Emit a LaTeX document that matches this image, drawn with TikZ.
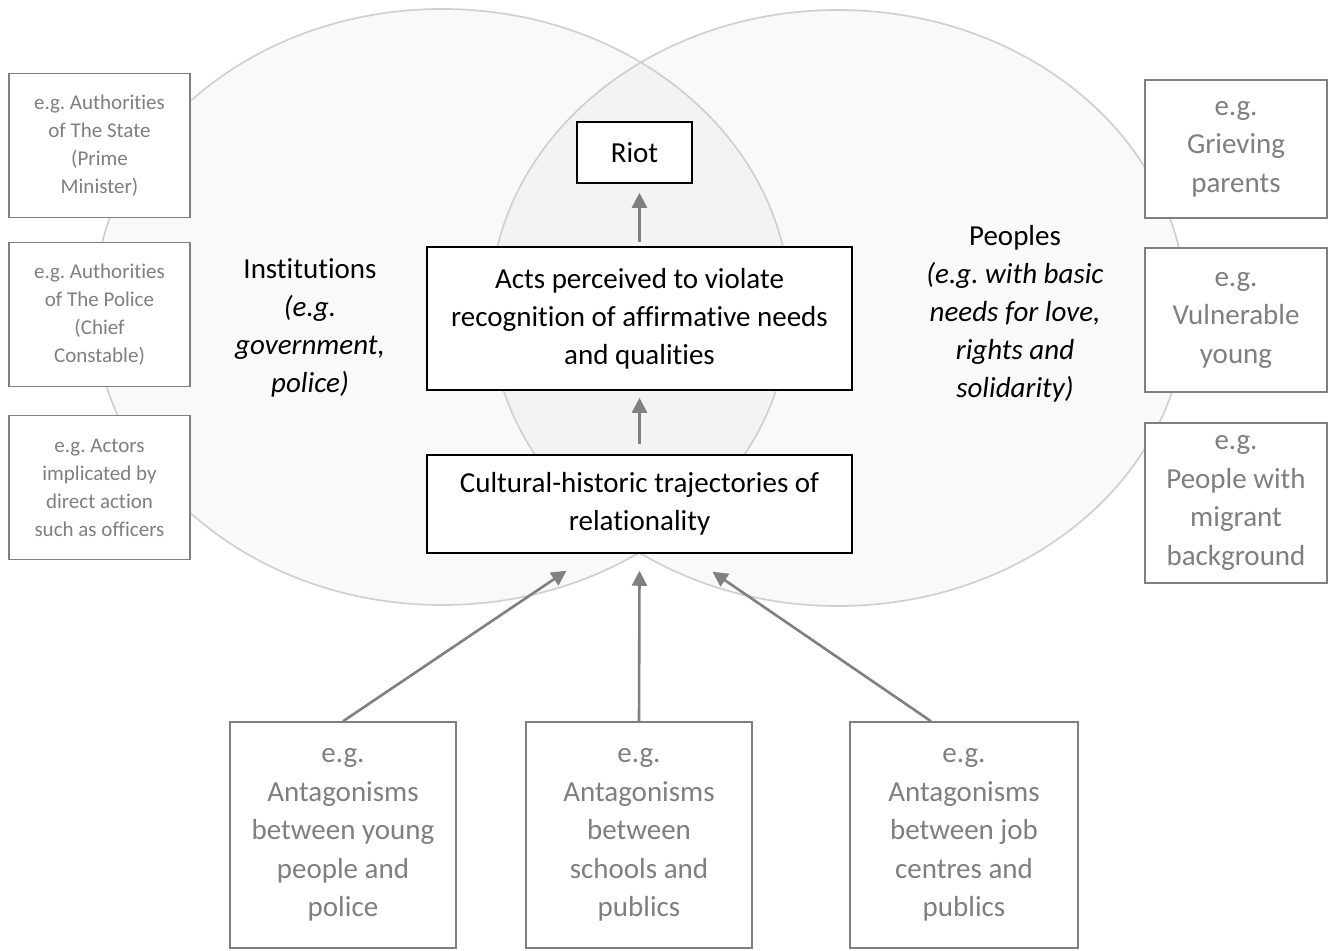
\documentclass[tikz,border=0pt]{standalone}
\usepackage{fontspec}
\setmainfont{Carlito}[Ligatures=NoCommon]
\usetikzlibrary{arrows.meta,positioning,calc}
\definecolor{VennLine}{HTML}{D0D0D0}
\definecolor{EgGrey}{HTML}{7F7F7F}
\definecolor{ArrowGrey}{HTML}{808080}
\frenchspacing

\begin{document}
\begin{tikzpicture}[x=1pt,y=-1pt,
  every node/.style={align=center,inner sep=0pt},
  egsmall/.style={draw=EgGrey,line width=1.5pt,fill=white,text=EgGrey,minimum width=181pt,minimum height=144pt,font=\fontsize{21}{28}\selectfont},
  eglarge/.style={draw=EgGrey,line width=1.5pt,fill=white,text=EgGrey,font=\fontsize{29}{38.5}\selectfont},
  mainbox/.style={draw=black,line width=1.5pt,fill=white,font=\fontsize{29}{38}\selectfont},
  flow/.style={-{Triangle[length=15pt,width=15pt]},line width=2.6pt,ArrowGrey}]
  \useasboundingbox (0,0) rectangle (1332,950);
  % the two overlapping circles
  \fill[black,fill opacity=0.022] (442,307) ellipse [x radius=348pt,y radius=298pt];
  \fill[black,fill opacity=0.022] (838,308) ellipse [x radius=348pt,y radius=298pt];
  \draw[VennLine,line width=1.7pt] (442,307) ellipse [x radius=348pt,y radius=298pt];
  \draw[VennLine,line width=1.7pt] (838,308) ellipse [x radius=348pt,y radius=298pt];
  \node[font=\fontsize{29}{38}\selectfont] (inst) at (310,328) {Institutions\\\textit{(e.g.}\\\textit{government,}\\\textit{police)}};
  \node[font=\fontsize{29}{38}\selectfont] (peoples) at (1015,314) {Peoples\\\textit{(e.g. with basic}\\\textit{needs for love,}\\\textit{rights and}\\\textit{solidarity)}};
  % left examples
  \node[egsmall] (state) at (99.5,145.5) {e.g. Authorities\\of The State\\(Prime\\Minister)};
  \node[egsmall,below=23.5pt of state] (police) {e.g. Authorities\\of The Police\\(Chief\\Constable)};
  \node[egsmall,below=27.5pt of police] (actors) {e.g. Actors\\implicated by\\direct action\\such as officers};
  % right examples
  \node[eglarge,minimum width=182pt,minimum height=138pt] (parents) at (1236,149) {e.g.\\Grieving\\parents};
  \node[eglarge,minimum width=182pt,minimum height=144pt,below=28.5pt of parents] (young) {e.g.\\Vulnerable\\young};
  \node[eglarge,minimum width=182pt,minimum height=160pt,below=29.5pt of young] (migrant) {e.g.\\People with\\migrant\\background};
  % bottom examples
  \node[eglarge,minimum width=226pt,minimum height=226pt] (youth) at (343,835) {e.g.\\Antagonisms\\between young\\people and\\police};
  \node[eglarge,minimum width=226pt,minimum height=226pt,right=68.5pt of youth] (schools) {e.g.\\Antagonisms\\between\\schools and\\publics};
  \node[eglarge,minimum width=228pt,minimum height=226pt,right=96.5pt of schools] (jobs) {e.g.\\Antagonisms\\between job\\centres and\\publics};
  % centre chain
  \node[mainbox,minimum width=115pt,minimum height=61pt] (riot) at (634.5,152.5) {Riot};
  \node[mainbox,minimum width=425pt,minimum height=143pt] (acts) at (639.5,318.5) {Acts perceived to violate\\recognition of affirmative needs\\and qualities};
  \node[mainbox,minimum width=425pt,minimum height=98pt] (cult) at (639.5,504) {Cultural-historic trajectories of\\relationality};
  \draw[flow,shorten <=4pt,shorten >=9pt] (acts.north) -- (acts.north |- riot.south);
  \draw[flow,shorten <=10pt,shorten >=7pt] (cult.north) -- (acts.south);
  \coordinate (t1) at ($(cult.south)+(-73,17)$);
  \coordinate (t2) at ($(cult.south)+(0,17)$);
  \coordinate (t3) at ($(cult.south)+(73,18)$);
  \coordinate (jobsfoot) at ($(jobs.north)+(-33,0)$);
  \foreach \s/\t in {youth.north/t1,schools.north/t2,jobsfoot/t3}{\draw[flow] (\s)--(\t);}
\end{tikzpicture}
\end{document}
